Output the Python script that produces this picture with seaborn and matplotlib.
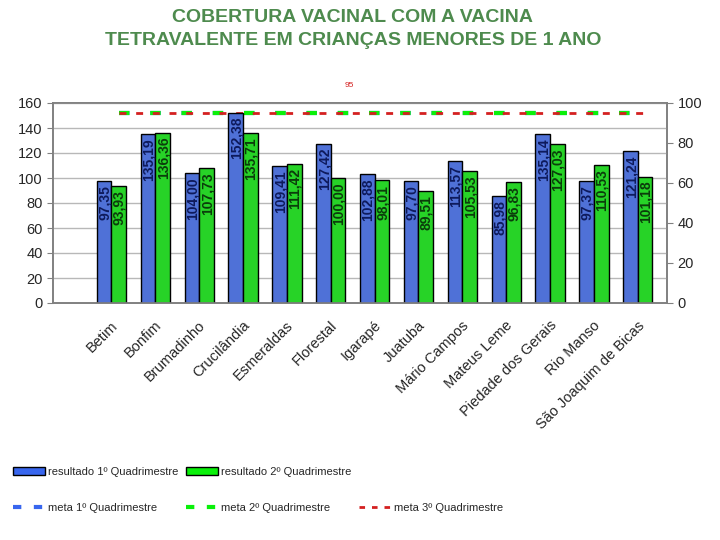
import numpy as np
import pandas as pd
import matplotlib
matplotlib.use('Agg')
import matplotlib.pyplot as plt
import matplotlib.transforms as mtransforms
import seaborn as sns
from matplotlib.patches import Patch
from matplotlib.lines import Line2D

# %%
cidades = ['Betim', 'Bonfim', 'Brumadinho', 'Crucilândia', 'Esmeraldas', 'Florestal',
           'Igarapé', 'Juatuba', 'Mário Campos', 'Mateus Leme', 'Piedade dos Gerais',
           'Rio Manso', 'São Joaquim de Bicas']
res_q1 = [97.35, 135.19, 104.00, 152.38, 109.41, 127.42, 102.88, 97.70, 113.57,
          85.98, 135.14, 97.37, 121.24]
res_q2 = [93.93, 136.36, 107.73, 135.71, 111.42, 100.00, 98.01, 89.51, 105.53,
          96.83, 127.03, 110.53, 101.18]
meta_q1 = [95] * 13
meta_q2 = [95] * 13
meta_q3 = [95] * 13

lab1 = 'resultado 1º Quadrimestre'
lab2 = 'resultado 2º Quadrimestre'

df = pd.DataFrame({
    'cidade': cidades * 2,
    'serie': [lab1] * 13 + [lab2] * 13,
    'valor': res_q1 + res_q2,
})

# %%
sns.set_style('white')
plt.rcParams['font.family'] = ['Liberation Sans', 'DejaVu Sans']

azul = '#3866ee'
verde = '#0af00a'
vermelho = '#d42020'

fig = plt.figure(figsize=(7.2, 5.4), dpi=100)
ax = fig.add_axes([53 / 720, 1 - 303 / 540, 614 / 720, 200 / 540])
ax2 = ax.twinx()

sns.barplot(data=df, x='cidade', y='valor', hue='serie', order=cidades,
            hue_order=[lab1, lab2, '_vazio'],
            palette=[azul, verde, 'white'], width=1.0, edgecolor='black',
            linewidth=1, ax=ax, legend=False)

ax.set_xlim(-1.5, 12.5)
ax.set_ylim(0, 160)
ax.set_yticks(range(0, 161, 20))
ax.grid(axis='y', color='#b8b8b8', linewidth=1)
ax.set_axisbelow(True)
ax.set_xlabel('')
ax.set_ylabel('')

# rotulos dentro das barras
cores_txt = ['#0e1a5c', '#0b3d0b']
for cont, cor in zip(ax.containers[:2], cores_txt):
    for p in cont.patches:
        h = p.get_height()
        if np.isnan(h):
            continue
        ax.annotate(f'{h:.2f}'.replace('.', ','), (p.get_x() + p.get_width() / 2, h),
                    xytext=(0.5, -3), textcoords='offset points', rotation=90,
                    ha='center', va='top', fontsize=10, fontweight='bold', color=cor)

# metas no eixo da direita
x = np.arange(len(cidades))
ax2.plot(x, meta_q1, color=azul, lw=3, dashes=(2.5, 5))
ax2.plot(x, meta_q2, color=verde, lw=3, dashes=(2.5, 5))
ax2.plot(x, meta_q3, color=vermelho, lw=2, dashes=(2.5, 3.5))
ax2.set_ylim(0, 100)
ax2.set_yticks(range(0, 101, 20))
ax2.text(5.25, 108.5, '95', color=vermelho, fontsize=6, ha='center', va='center',
         clip_on=False)

# barras por cima das linhas
ax.set_zorder(ax2.get_zorder() + 1)
ax.patch.set_visible(False)

for a in (ax, ax2):
    for s in a.spines.values():
        s.set_color('#808080')
        s.set_linewidth(1.2)
    a.tick_params(axis='y', labelsize=10.5, length=4, color='#808080', direction='out')

ax.set_xticks(x)
ax.set_xticklabels(cidades, rotation=45, ha='right', rotation_mode='anchor', fontsize=10.5)
ax.tick_params(axis='x', which='major', length=0, pad=11)
desloc = mtransforms.ScaledTranslation(-8 / 100, 0, fig.dpi_scale_trans)
for t in ax.get_xticklabels():
    t.set_transform(t.get_transform() + desloc)
ax.set_xticks(np.arange(-0.5, 12.6, 1), minor=True)
ax.tick_params(axis='x', which='minor', length=5, color='#808080', direction='out')
ax.tick_params(left=True)
ax2.tick_params(right=True)

fig.text(0.49, 0.983, 'COBERTURA VACINAL COM A VACINA\nTETRAVALENTE EM CRIANÇAS MENORES DE 1 ANO',
         ha='center', va='top', fontsize=14, fontweight='bold', color='#4e8b4e',
         linespacing=1.45)

handles = [Patch(facecolor=azul, edgecolor='black'),
           Line2D([], [], color=azul, lw=3, dashes=(2, 3)),
           Patch(facecolor=verde, edgecolor='black'),
           Line2D([], [], color=verde, lw=3, dashes=(2, 3)),
           Line2D([], [], color='none'),
           Line2D([], [], color=vermelho, lw=2, dashes=(2, 2.5))]
labels = [lab1, 'meta 1º Quadrimestre', lab2, 'meta 2º Quadrimestre', '',
          'meta 3º Quadrimestre']
fig.legend(handles, labels, ncol=3, loc='upper left', bbox_to_anchor=(13 / 720, 0.136),
           frameon=False, fontsize=8, handlelength=2.9, handletextpad=0.25,
           columnspacing=0.7, labelspacing=2.35, handleheight=0.85,
           borderpad=0, borderaxespad=0)

fig.savefig('out.png', dpi=100)
